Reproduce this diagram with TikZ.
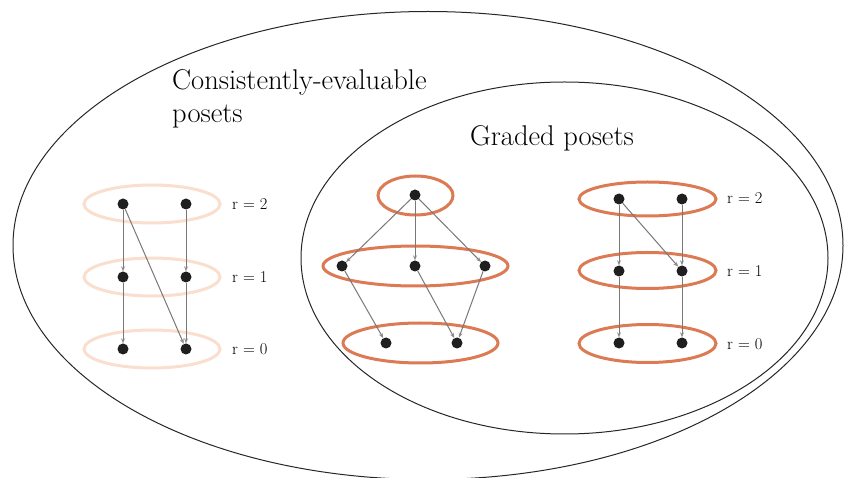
\documentclass[tikz,border=0pt]{standalone}
\usetikzlibrary{arrows.meta}
\definecolor{orng}{RGB}{220,122,84}
\definecolor{pale}{RGB}{250,222,206}
\definecolor{edgegray}{RGB}{120,120,120}
\begin{document}
\begin{tikzpicture}[x=1pt,y=-1pt,
  dot/.style={circle,fill=black!88,inner sep=0pt,minimum size=11pt},
  lvl/.style={draw=orng,line width=3pt},
  lvlpale/.style={draw=pale,line width=3pt},
  edge/.style={draw=edgegray,line width=1pt,-{Stealth[length=5pt,width=4pt,color=black!45]}},
  rlab/.style={anchor=west,inner sep=0pt,font=\fontsize{16.5}{19}\selectfont},
  big/.style={anchor=base west,inner sep=0pt,font=\fontsize{28.5}{34}\selectfont},
  region/.style={draw=black!85,line width=1pt}]
\useasboundingbox (0,0) rectangle (844,478);
% regions
\draw[region] (428,245.5) ellipse [x radius=415, y radius=234];
\draw[region] (564.5,258) ellipse [x radius=263.5, y radius=176];
\node[big] (t1) at (172,90) {Consistently-evaluable};
\node[big] (t2) at (172,123) {posets};
\node[big] (t3) at (470,146) {Graded posets};
% left poset
\draw[lvlpale] (152,204) ellipse [x radius=68, y radius=19];
\draw[lvlpale] (152,277) ellipse [x radius=68, y radius=19];
\draw[lvlpale] (152,349) ellipse [x radius=68, y radius=19];
\node[dot] (a2) at (123,204) {};
\node[dot] (b2) at (186,204) {};
\node[dot] (a1) at (123,277) {};
\node[dot] (b1) at (186,277) {};
\node[dot] (a0) at (123,349) {};
\node[dot] (b0) at (186,349) {};
\draw[edge] (a2) -- (a1);
\draw[edge] (a1) -- (a0);
\draw[edge] (b2) -- (b1);
\draw[edge] (b1) -- (b0);
\draw[edge] (a2) -- (b0);
\node[rlab] (la2) at (232,204) {r = 2};
\node[rlab] (la1) at (232,277) {r = 1};
\node[rlab] (la0) at (232,349) {r = 0};
% middle poset
\draw[lvl] (415.5,195.5) ellipse [x radius=37.5, y radius=19.5];
\draw[lvl] (415.5,266) ellipse [x radius=92.5, y radius=20];
\draw[lvl] (420.5,343) ellipse [x radius=77.5, y radius=20];
\node[dot] (m2) at (415,195) {};
\node[dot] (m1a) at (342,266) {};
\node[dot] (m1b) at (415,266) {};
\node[dot] (m1c) at (485,266) {};
\node[dot] (m0a) at (386,343) {};
\node[dot] (m0b) at (457,343) {};
\draw[edge] (m2) -- (m1a);
\draw[edge] (m2) -- (m1b);
\draw[edge] (m2) -- (m1c);
\draw[edge] (m1a) -- (m0a);
\draw[edge] (m1b) -- (m0b);
\draw[edge] (m1c) -- (m0b);
% right poset
\draw[lvl] (647.5,199) ellipse [x radius=68.5, y radius=17];
\draw[lvl] (647.5,270.5) ellipse [x radius=68.5, y radius=18];
\draw[lvl] (647.5,343.5) ellipse [x radius=68.5, y radius=19];
\node[dot] (c2) at (619,199) {};
\node[dot] (d2) at (682,199) {};
\node[dot] (c1) at (619,271) {};
\node[dot] (d1) at (682,271) {};
\node[dot] (c0) at (619,343) {};
\node[dot] (d0) at (682,343) {};
\draw[edge] (c2) -- (c1);
\draw[edge] (c1) -- (c0);
\draw[edge] (d2) -- (d1);
\draw[edge] (d1) -- (d0);
\draw[edge] (c2) -- (d1);
\node[rlab] (lc2) at (727,198) {r = 2};
\node[rlab] (lc1) at (727,271) {r = 1};
\node[rlab] (lc0) at (727,344) {r = 0};
\end{tikzpicture}
\end{document}
